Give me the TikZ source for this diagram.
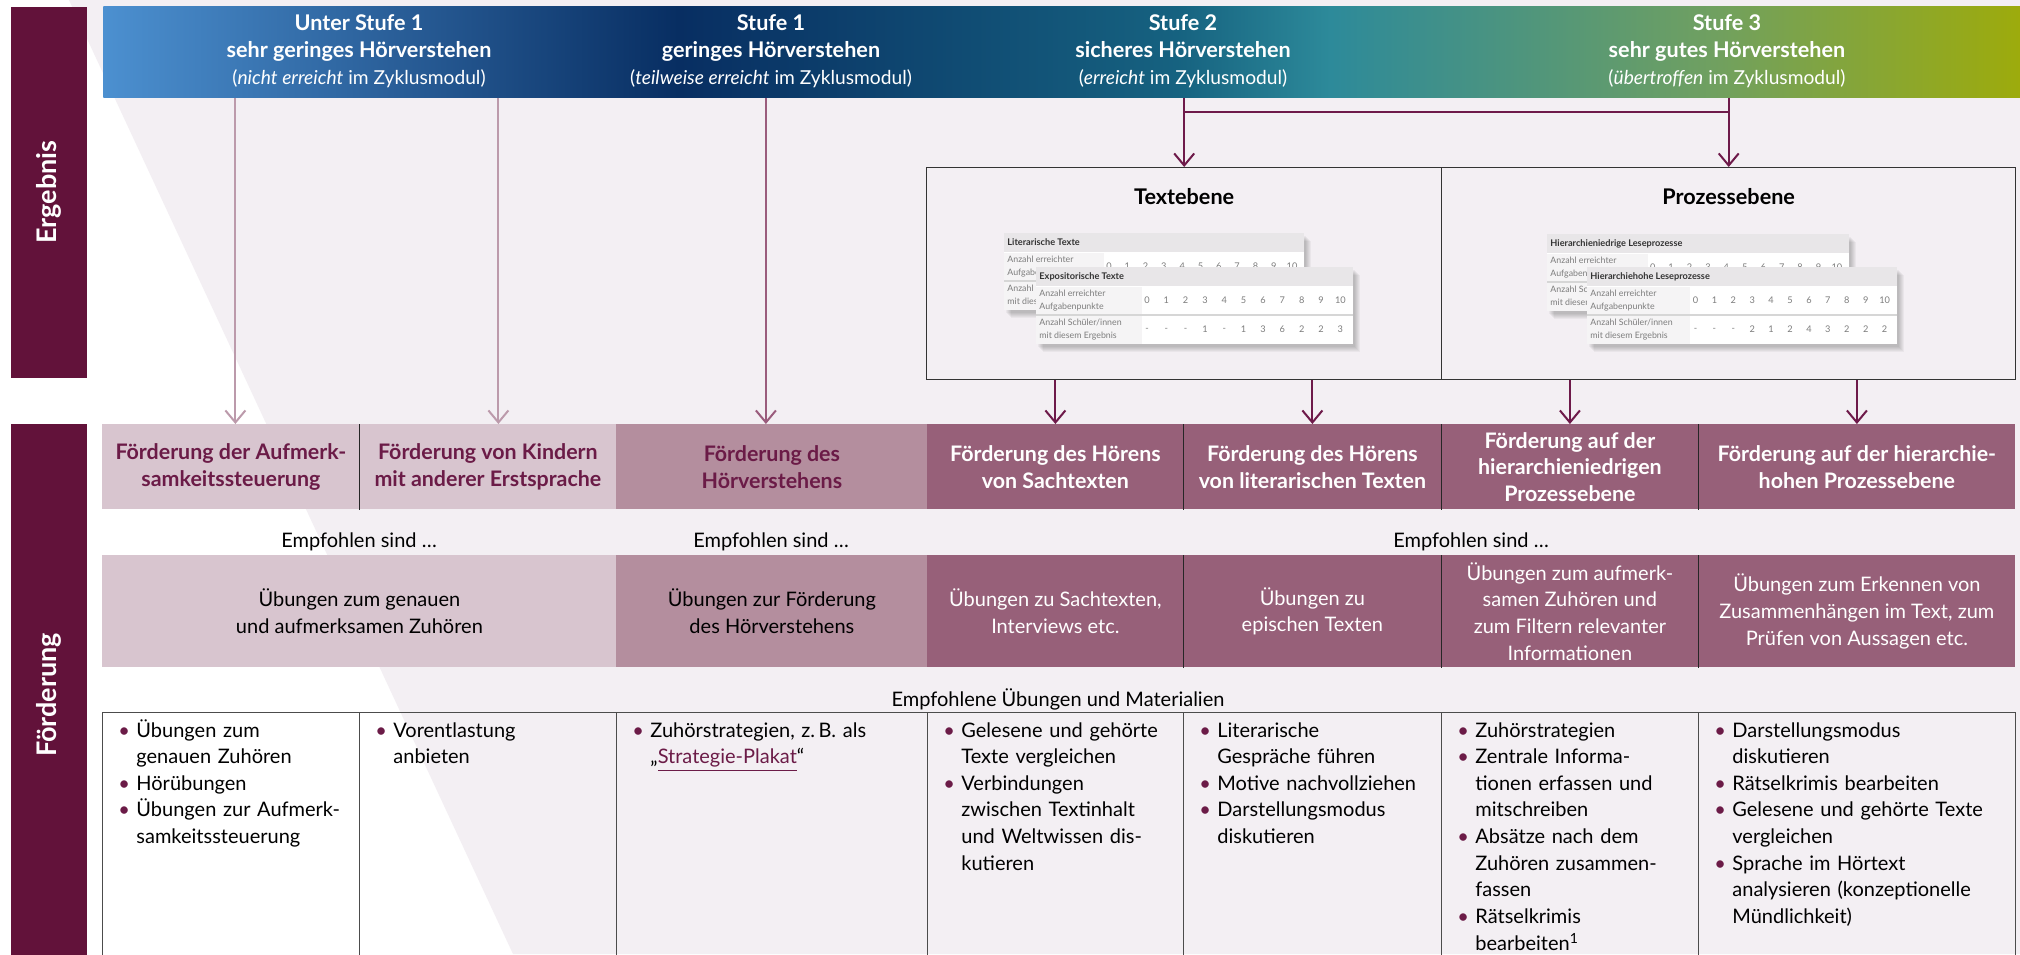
\documentclass[tikz,border=0pt]{standalone}
\usepackage{fontspec}
\setmainfont{Lato}
\usepackage{tikz}
\usetikzlibrary{arrows.meta, calc, positioning}

\definecolor{Burgund}{RGB}{98,18,58}
\definecolor{BurgText}{RGB}{107,27,71}
\definecolor{BgPink}{RGB}{243,239,243}
\definecolor{RowLight}{RGB}{216,197,207}
\definecolor{RowMid}{RGB}{180,142,158}
\definecolor{RowDark}{RGB}{151,96,121}
\definecolor{ArrLight}{RGB}{188,154,171}
\definecolor{ArrMid}{RGB}{154,92,124}
\definecolor{ArrDark}{RGB}{110,26,74}
\definecolor{HdA}{RGB}{76,144,208}
\definecolor{HdB}{RGB}{8,46,98}
\definecolor{HdC}{RGB}{22,98,128}
\definecolor{HdD}{RGB}{45,138,154}
\definecolor{HdE}{RGB}{112,160,96}
\definecolor{HdF}{RGB}{157,171,12}
\definecolor{TabHead}{RGB}{232,230,232}
\definecolor{TabLabel}{RGB}{245,244,245}
\definecolor{TabLine}{RGB}{214,214,214}
\definecolor{TabText}{RGB}{125,125,125}

\pgfdeclarehorizontalshading{stufen}{100bp}{color(0bp)=(HdA); color(25bp)=(HdA); color(40bp)=(HdB); color(53bp)=(HdC); color(57bp)=(HdD); color(67bp)=(HdE); color(75bp)=(HdF); color(100bp)=(HdF)}

\tikzstyle{header} = [rectangle, shade, shading=stufen, minimum width=958.5pt, minimum height=45.5pt, inner sep=0pt]
\tikzstyle{stufe} = [text=white, align=center, font=\fontsize{10.8}{13.5}\selectfont]
\tikzstyle{sidebar} = [rectangle, fill=Burgund, minimum width=38pt, inner sep=0pt]
\tikzstyle{sidelabel} = [text=white, font=\fontsize{13.5}{15}\selectfont\bfseries, rotate=90]
\tikzstyle{ebene} = [rectangle, draw=black!80, line width=0.7pt, minimum height=106pt, inner sep=0pt]
\tikzstyle{ebenetitel} = [font=\fontsize{10.8}{12}\selectfont\bfseries]
\tikzstyle{foerder} = [rectangle, inner sep=0pt, minimum height=42.5pt, align=center, font=\fontsize{10.7}{13.33}\selectfont\bfseries]
\tikzstyle{uebung} = [rectangle, inner sep=0pt, minimum height=56pt, align=center, font=\fontsize{10}{13.33}\selectfont]
\tikzstyle{hinweis} = [font=\fontsize{10}{13.33}\selectfont]
\tikzstyle{cell} = [rectangle, draw=black!70, line width=0.6pt, minimum height=125pt, inner sep=0pt]
\tikzstyle{liste} = [text width=140pt, align=left, inner sep=0pt, font=\fontsize{10}{13.33}\selectfont]
\tikzstyle{divider} = [line width=0.6pt, draw=black!85]
\tikzstyle{arrow} = [line width=1pt, -{Straight Barb[length=6pt,width=10pt]}]
\tikzstyle{tabtitle} = [inner sep=0pt, text=black!80, font=\fontsize{4.6}{5.5}\selectfont\bfseries]
\tikzstyle{tablabel} = [inner sep=0pt, align=left, text=TabText, font=\fontsize{4.4}{6.6}\selectfont]
\tikzstyle{tabnum} = [inner sep=0pt, text=TabText, font=\fontsize{4.6}{5.5}\selectfont]

\newcommand{\listbul}{\makebox[9pt][l]{\textcolor{BurgText}{\textbullet}}}
\newcommand{\listind}{\hspace*{9pt}}
\newcommand{\zyklus}[1]{{\fontsize{9.6}{13.5}\selectfont(\textit{#1} im Zyklusmodul)}}

% small result table: name, x, y, width, title
\newcommand{\minitab}[5]{%
  \foreach \s in {1,...,6}
    \fill[black, opacity=0.04] (#2+\s+1,#3+\s+2) rectangle (#2+#4+\s+1,#3+79+\s);
  \fill[white] (#2,#3) rectangle ++(#4,77);
  \fill[TabHead] (#2,#3) rectangle ++(#4,19);
  \fill[TabLabel] (#2,#3+20) rectangle ++(0.333*#4,57);
  \draw[TabLine, line width=0.8pt] (#2,#3+48) -- ++(#4,0);
  \node[tabtitle, anchor=west] (#1Titel) at (#2+3,#3+9.5) {#5};
  \node[tablabel, anchor=west] (#1Punkte) at (#2+3,#3+33.5) {Anzahl erreichter\\Aufgabenpunkte};
  \node[tablabel, anchor=west] (#1Schueler) at (#2+3,#3+62.5) {Anzahl Schüler/innen\\mit diesem Ergebnis};
  \foreach \n in {0,...,10}
    \node[tabnum] (#1P\n) at (#2+0.35*#4+\n*0.061*#4,#3+33.5) {\n};
}
\newcommand{\minivals}[5]{%
  \foreach \v [count=\i from 0] in {#5}
    \node[tabnum] (#1W\i) at (#2+0.35*#4+\i*0.061*#4,#3+62.5) {\v};
}

\begin{document}
\begin{tikzpicture}[x=0.5pt, y=-0.5pt]
\useasboundingbox (0,0) rectangle (2020,954);
\clip (0,0) rectangle (2020,954);
% background
\fill[white] (0,0) rectangle (2020,954);
\fill[BgPink] (69,0) -- (2020,0) -- (2020,954) -- (513,954) -- cycle;

% side bars
\node[sidebar, minimum height=185.5pt] (Ergebnis) at (48.5,192) {};
\node[sidelabel] (ErgebnisText) at (Ergebnis) {Ergebnis};
\node[sidebar, minimum height=268pt, anchor=north] (Foerderung) at (48.5,424) {};
\node[sidelabel] (FoerderungText) at (48.5,695) {Förderung};

% levels
\node[header, anchor=north west] (Header) at (103,6) {};
\node[stufe] (StufeU) at (359,51.5) {\textbf{Unter Stufe 1}\\\textbf{sehr geringes Hörverstehen}\\\zyklus{nicht erreicht}};
\node[stufe] (StufeA) at (771,51.5) {\textbf{Stufe 1}\\\textbf{geringes Hörverstehen}\\\zyklus{teilweise erreicht}};
\node[stufe] (StufeB) at (1183,51.5) {\textbf{Stufe 2}\\\textbf{sicheres Hörverstehen}\\\zyklus{erreicht}};
\node[stufe] (StufeC) at (1727,51.5) {\textbf{Stufe 3}\\\textbf{sehr gutes Hörverstehen}\\\zyklus{übertroffen}};

% Text- und Prozessebene
\node[ebene, minimum width=257.5pt, anchor=north west] (Textebene) at (926,167) {};
\node[ebene, minimum width=287pt, anchor=north west] (Prozessebene) at (1441,167) {};
\node[ebenetitel, below=7pt of Textebene.north] (TextTitel) {Textebene};
\node[ebenetitel, below=7pt of Prozessebene.north] (ProzessTitel) {Prozessebene};

\minitab{TabLit}{1004}{233}{300}{Literarische Texte}
\minitab{TabExpo}{1036}{267}{317}{Expositorische Texte}
\minivals{TabExpo}{1036}{267}{317}{-,-,-,1,-,1,3,6,2,2,3}
\minitab{TabNied}{1547}{234}{302}{Hierarchieniedrige Leseprozesse}
\minitab{TabHoch}{1587}{267}{310}{Hierarchiehohe Leseprozesse}
\minivals{TabHoch}{1587}{267}{310}{-,-,-,2,1,2,4,3,2,2,2}

% Foerderbereiche
\node[foerder, fill=RowLight, text=BurgText, minimum width=128.5pt, anchor=north west] (FAufmerk) at (102,424) {Förderung der Aufmerk-\\samkeitssteuerung};
\node[foerder, fill=RowLight, text=BurgText, minimum width=128.5pt, anchor=north west] (FKinder) at (359,424) {Förderung von Kindern\\mit anderer Erstsprache};
\node[foerder, fill=RowMid, text=BurgText, minimum width=155.5pt, anchor=north west] (FHoer) at (616,424) {Förderung des\\Hörverstehens};
\node[foerder, fill=RowDark, text=white, minimum width=128pt, anchor=north west] (FSach) at (927,424) {Förderung des Hörens\\von Sachtexten};
\node[foerder, fill=RowDark, text=white, minimum width=129pt, anchor=north west] (FLiter) at (1183,424) {Förderung des Hörens\\von literarischen Texten};
\node[foerder, fill=RowDark, text=white, minimum width=128.5pt, anchor=north west] (FNiedrig) at (1441,424) {Förderung auf der\\hierarchieniedrigen\\Prozessebene};
\node[foerder, fill=RowDark, text=white, minimum width=158.5pt, anchor=north west] (FHoch) at (1698,424) {Förderung auf der hierarchie-\\hohen Prozessebene};

\node[uebung, fill=RowLight, minimum width=257pt, anchor=north west] (UebGenau) at (102,555) {Übungen zum genauen\\und aufmerksamen Zuhören};
\node[uebung, fill=RowMid, minimum width=155.5pt, anchor=north west] (UebHoer) at (616,555) {Übungen zur Förderung\\des Hörverstehens};
\node[uebung, fill=RowDark, text=white, minimum width=128pt, anchor=north west] (UebSach) at (927,555) {Übungen zu Sachtexten,\\Interviews etc.};
\node[uebung, fill=RowDark, text=white, minimum width=129pt, anchor=north west] (UebEpisch) at (1183,555) {Übungen zu\\epischen Texten};
\node[uebung, fill=RowDark, text=white, minimum width=128.5pt, anchor=north west] (UebFilter) at (1441,555) {Übungen zum aufmerk-\\samen Zuhören und\\zum Filtern relevanter\\Informationen};
\node[uebung, fill=RowDark, text=white, minimum width=158.5pt, anchor=north west] (UebErkennen) at (1698,555) {Übungen zum Erkennen von\\Zusammenhängen im Text, zum\\Prüfen von Aussagen etc.};

\draw[divider] (FAufmerk.north east) -- (FAufmerk.south east);
\draw[divider] (FSach.north east) -- (FSach.south east);
\draw[divider] (FLiter.north east) -- (FLiter.south east);
\draw[divider] (FNiedrig.north east) -- (FNiedrig.south east);
\draw[divider] (UebSach.north east) -- (UebSach.south east);
\draw[divider] (UebEpisch.north east) -- (UebEpisch.south east);
\draw[divider] (UebFilter.north east) -- (UebFilter.south east);

% connectors
\coordinate (PfeilA) at ($(FAufmerk.north)+(4.5,0)$);
\coordinate (PfeilB) at ($(FKinder.north)+(10.5,0)$);
\coordinate (PfeilC) at ($(FHoer.north)+(-6,0)$);
\draw[arrow, ArrLight] (PfeilA |- Header.south) -- (PfeilA);
\draw[arrow, ArrLight] (PfeilB |- Header.south) -- (PfeilB);
\draw[arrow, ArrMid] (PfeilC |- Header.south) -- (PfeilC);
\draw[arrow, ArrDark] (Header.south -| Textebene.north) -- (Textebene.north);
\draw[arrow, ArrDark] (Header.south -| Prozessebene.north) -- (Prozessebene.north);
\draw[ArrDark, line width=1pt] ($(Header.south -| Textebene.north)+(0,14)$) -- ($(Header.south -| Prozessebene.north)+(0,14)$);
\draw[arrow, ArrDark] (Textebene.south -| FSach.north) -- (FSach.north);
\draw[arrow, ArrDark] (Textebene.south -| FLiter.north) -- (FLiter.north);
\draw[arrow, ArrDark] (Prozessebene.south -| FNiedrig.north) -- (FNiedrig.north);
\draw[arrow, ArrDark] (Prozessebene.south -| FHoch.north) -- (FHoch.north);

\node[hinweis] (EmpfA) at (359,542) {Empfohlen sind …};
\node[hinweis] (EmpfB) at (771,542) {Empfohlen sind …};
\node[hinweis] (EmpfC) at (1471,542) {Empfohlen sind …};
\node[hinweis] (EmpfMat) at (1058,699) {Empfohlene Übungen und Materialien};

% recommended materials
\node[cell, minimum width=128.5pt, anchor=north west] (CellAufmerk) at (102,712) {};
\node[cell, minimum width=128.5pt, anchor=north west] (CellKinder) at (359,712) {};
\node[cell, minimum width=155.5pt, anchor=north west] (CellHoer) at (616,712) {};
\node[cell, minimum width=128pt, anchor=north west] (CellSach) at (927,712) {};
\node[cell, minimum width=129pt, anchor=north west] (CellLiter) at (1183,712) {};
\node[cell, minimum width=128.5pt, anchor=north west] (CellNiedrig) at (1441,712) {};
\node[cell, minimum width=158.5pt, anchor=north west] (CellHoch) at (1698,712) {};

\node[liste, anchor=base west] (ListeAufmerk) at ($(CellAufmerk.north west)+(16,25)$) {\listbul Übungen zum\\\listind genauen Zuhören\\\listbul Hörübungen\\\listbul Übungen zur Aufmerk-\\\listind samkeitssteuerung};
\node[liste, anchor=base west] (ListeKinder) at ($(CellKinder.north west)+(16,25)$) {\listbul Vorentlastung\\\listind anbieten};
\node[liste, anchor=base west] (ListeHoer) at ($(CellHoer.north west)+(16,25)$) {\listbul Zuhörstrategien, z.\,B. als\\\listind „\textcolor{BurgText}{\underline{Strategie-Plakat}}“};
\node[liste, anchor=base west] (ListeSach) at ($(CellSach.north west)+(16,25)$) {\listbul Gelesene und gehörte\\\listind Texte vergleichen\\\listbul Verbindungen\\\listind zwischen Textinhalt\\\listind und Weltwissen dis-\\\listind kutieren};
\node[liste, anchor=base west] (ListeLiter) at ($(CellLiter.north west)+(16,25)$) {\listbul Literarische\\\listind Gespräche führen\\\listbul Motive nachvollziehen\\\listbul Darstellungsmodus\\\listind diskutieren};
\node[liste, anchor=base west] (ListeNiedrig) at ($(CellNiedrig.north west)+(16,25)$) {\listbul Zuhörstrategien\\\listbul Zentrale Informa-\\\listind tionen erfassen und\\\listind mitschreiben\\\listbul Absätze nach dem\\\listind Zuhören zusammen-\\\listind fassen\\\listbul Rätselkrimis\\\listind bearbeiten\textsuperscript{1}};
\node[liste, anchor=base west] (ListeHoch) at ($(CellHoch.north west)+(16,25)$) {\listbul Darstellungsmodus\\\listind diskutieren\\\listbul Rätselkrimis bearbeiten\\\listbul Gelesene und gehörte Texte\\\listind vergleichen\\\listbul Sprache im Hörtext\\\listind analysieren (konzeptionelle\\\listind Mündlichkeit)};
\end{tikzpicture}
\end{document}
